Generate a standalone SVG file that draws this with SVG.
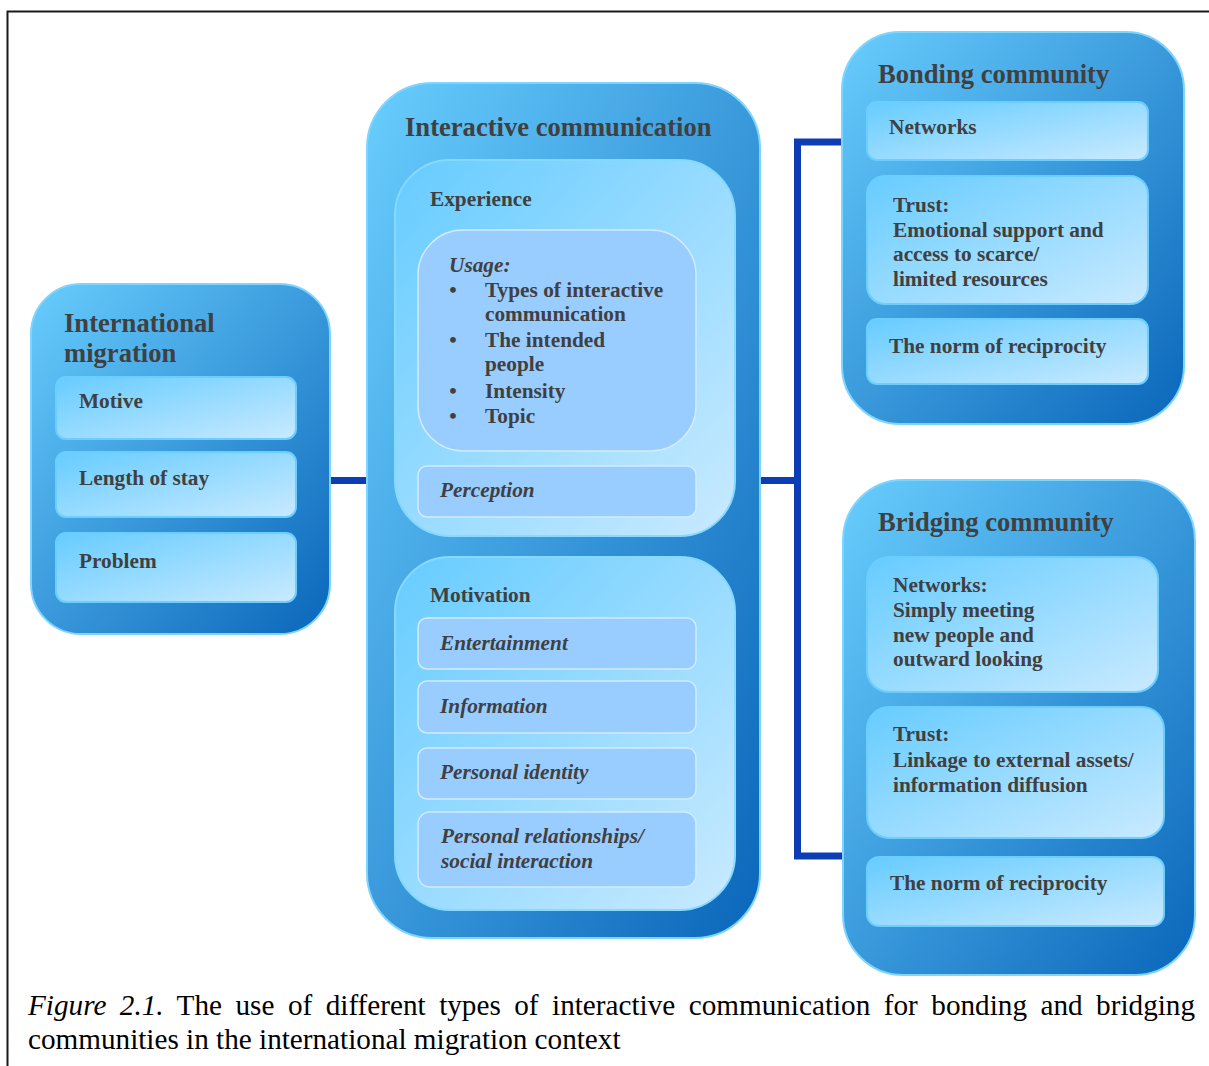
<svg xmlns="http://www.w3.org/2000/svg" width="1209" height="1066" viewBox="0 0 1209 1066">
<style>
.t{font-family:"Liberation Serif","Times New Roman",serif;font-weight:bold;fill:#404040}
.ti{font-size:26.6px}
.lb{font-size:21.3px}
.it{font-style:italic}
.outer{fill:url(#gOut);stroke:#7FD5FF;stroke-width:2}
.inner{fill:url(#gIn);stroke:#6ACEFF;stroke-width:2}
.sub{fill:url(#gIn);stroke:#86D9FF;stroke-width:2}
.flat{fill:#99CCFF;stroke:#D2ECFF;stroke-width:1.5}
.conn{fill:none;stroke:#0D3DB4;stroke-width:7}
.cap{font-family:"Liberation Serif","Times New Roman",serif;font-size:29.2px;fill:#000}
</style>
<defs>
<linearGradient id="gOut" x1="0" y1="0" x2="1" y2="1">
<stop offset="0" stop-color="#69CDFD"/>
<stop offset="1" stop-color="#0A66BA"/>
</linearGradient>
<linearGradient id="gIn" x1="0" y1="0" x2="1" y2="1">
<stop offset="0" stop-color="#66CCFF"/>
<stop offset="1" stop-color="#C9EAFF"/>
</linearGradient>
</defs>
<rect width="1209" height="1066" fill="#fff"/>
<path d="M1210,11.5 H7.5 V1067" fill="none" stroke="#1a1a1a" stroke-width="2"/>

<g id="connectors">
<path class="conn" d="M329,480.5 H369"/>
<path class="conn" d="M759,480.5 H797.5"/>
<path class="conn" d="M844,142 H797.5 V856 H846"/>
</g>

<g id="international-migration">
<rect class="outer" x="31" y="284" width="299" height="350" rx="50"/>
<text class="t ti" x="64" y="332">International</text>
<text class="t ti" x="64" y="362">migration</text>
<rect class="inner" x="56" y="377" width="240" height="62" rx="10"/>
<text class="t lb" x="79" y="408">Motive</text>
<rect class="inner" x="56" y="452" width="240" height="65" rx="10"/>
<text class="t lb" x="79" y="485">Length of stay</text>
<rect class="inner" x="56" y="533" width="240" height="69" rx="10"/>
<text class="t lb" x="79" y="568">Problem</text>
</g>

<g id="interactive-communication">
<rect class="outer" x="367" y="83" width="393" height="855" rx="65"/>
<text class="t ti" x="405" y="136">Interactive communication</text>
<g id="experience">
<rect class="sub" x="395" y="160" width="340" height="376" rx="55"/>
<text class="t lb" x="430" y="206">Experience</text>
<g id="usage">
<rect class="flat" x="418" y="230" width="278" height="221" rx="45"/>
<text class="t lb it" x="449" y="272">Usage:</text>
<text class="t lb" x="453" y="297" text-anchor="middle">•</text>
<text class="t lb" x="485" y="297">Types of interactive</text>
<text class="t lb" x="485" y="321">communication</text>
<text class="t lb" x="453" y="347" text-anchor="middle">•</text>
<text class="t lb" x="485" y="347">The intended</text>
<text class="t lb" x="485" y="371">people</text>
<text class="t lb" x="453" y="398" text-anchor="middle">•</text>
<text class="t lb" x="485" y="398">Intensity</text>
<text class="t lb" x="453" y="423" text-anchor="middle">•</text>
<text class="t lb" x="485" y="423">Topic</text>
</g>
<g id="perception">
<rect class="flat" x="418" y="466" width="278" height="51" rx="9"/>
<text class="t lb it" x="440" y="497">Perception</text>
</g>
</g>
<g id="motivation">
<rect class="sub" x="395" y="557" width="340" height="353" rx="55"/>
<text class="t lb" x="430" y="602">Motivation</text>
<g id="entertainment">
<rect class="flat" x="418" y="618" width="278" height="51" rx="9"/>
<text class="t lb it" x="440" y="650">Entertainment</text>
</g>
<g id="information">
<rect class="flat" x="418" y="681" width="278" height="52" rx="9"/>
<text class="t lb it" x="440" y="713">Information</text>
</g>
<g id="personal-identity">
<rect class="flat" x="418" y="748" width="278" height="51" rx="9"/>
<text class="t lb it" x="440" y="779">Personal identity</text>
</g>
<g id="personal-relationships">
<rect class="flat" x="418" y="812" width="278" height="75" rx="12"/>
<text class="t lb it" x="441" y="843">Personal relationships/</text>
<text class="t lb it" x="441" y="868">social interaction</text>
</g>
</g>
</g>

<g id="bonding-community">
<rect class="outer" x="842" y="32" width="342" height="392" rx="58"/>
<text class="t ti" x="878" y="83">Bonding community</text>
<rect class="inner" x="867" y="102" width="281" height="58" rx="10"/>
<text class="t lb" x="889" y="134">Networks</text>
<rect class="inner" x="867" y="176" width="281" height="128" rx="18"/>
<text class="t lb" x="893" y="212">Trust:</text>
<text class="t lb" x="893" y="237">Emotional support and</text>
<text class="t lb" x="893" y="261">access to scarce/</text>
<text class="t lb" x="893" y="286">limited resources</text>
<rect class="inner" x="867" y="319" width="281" height="65" rx="10"/>
<text class="t lb" x="889" y="353">The norm of reciprocity</text>
</g>

<g id="bridging-community">
<rect class="outer" x="843" y="480" width="352" height="495" rx="60"/>
<text class="t ti" x="878" y="531">Bridging community</text>
<rect class="inner" x="867" y="557" width="291" height="135" rx="22"/>
<text class="t lb" x="893" y="592">Networks:</text>
<text class="t lb" x="893" y="617">Simply meeting</text>
<text class="t lb" x="893" y="642">new people and</text>
<text class="t lb" x="893" y="666">outward looking</text>
<rect class="inner" x="867" y="707" width="297" height="131" rx="22"/>
<text class="t lb" x="893" y="741">Trust:</text>
<text class="t lb" x="893" y="767">Linkage to external assets/</text>
<text class="t lb" x="893" y="792">information diffusion</text>
<rect class="inner" x="867" y="857" width="297" height="69" rx="12"/>
<text class="t lb" x="890" y="890">The norm of reciprocity</text>
</g>

<g id="caption">
<text class="cap" x="28" y="1015" word-spacing="6.2"><tspan font-style="italic">Figure 2.1.</tspan> The use of different types of interactive communication for bonding and bridging</text>
<text class="cap" x="28" y="1049">communities in the international migration context</text>
</g>
</svg>
